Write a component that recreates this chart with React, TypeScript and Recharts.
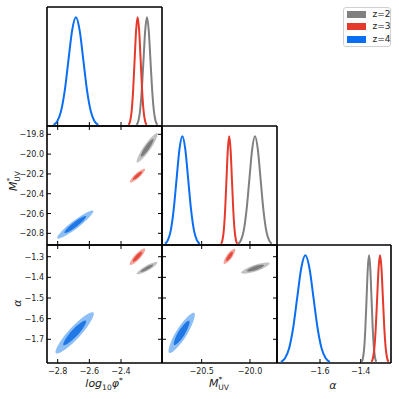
import React from "react";
import { ScatterChart, Scatter, XAxis, YAxis } from "recharts";

const FONT = '"DejaVu Sans", sans-serif';

// z groups
const GROUPS = ["z=2", "z=3", "z=4"];
const LINE_COLORS = ["#808080", "#e5392b", "#0a6ef2"];
const OUTER_FILL = ["#c2c2c2", "#f3a59d", "#8dbef5"];
const INNER_FILL = ["#7c7c7c", "#e5493c", "#1f78e6"];

// axis ticks
const PHI_TICKS = [-2.8, -2.6, -2.4];
const MUV_TICKS = [-19.8, -20.0, -20.2, -20.4, -20.6, -20.8];
const MUV_X_TICKS = [-20.5, -20.0];
const ALPHA_TICKS = [-1.3, -1.4, -1.5, -1.6, -1.7];
const ALPHA_X_TICKS = [-1.6, -1.4];

// axis ranges
const PHI_RANGE = [-2.8676, -2.141];
const MUV_Y_RANGE = [-20.918, -19.716];
const MUV_X_RANGE = [-20.911, -19.72];
const ALPHA_Y_RANGE = [-1.8148, -1.2433];
const ALPHA_X_RANGE = [-1.8113, -1.2511];
const PDF_RANGE = [0, 1.095];

// 1D marginal heights (same normalised profile for each curve)
const PROFILE = [0.011, 0.044, 0.135, 0.325, 0.607, 0.882, 1, 0.882, 0.607, 0.325, 0.135, 0.044, 0.011];

// log10 phi* marginals: z=2, z=3, z=4
const PHI_Z2 = [-2.302, -2.291, -2.28, -2.269, -2.258, -2.247, -2.236, -2.225, -2.214, -2.203, -2.192, -2.181, -2.17];
const PHI_Z3 = [-2.352, -2.3425, -2.333, -2.3235, -2.314, -2.3045, -2.295, -2.2855, -2.276, -2.2665, -2.257, -2.2475, -2.238];
const PHI_Z4 = [-2.826, -2.8025, -2.779, -2.7555, -2.732, -2.7085, -2.685, -2.6615, -2.638, -2.6145, -2.591, -2.5675, -2.544];

// M_UV marginals
const MUV_Z2 = [-20.122, -20.093, -20.064, -20.035, -20.006, -19.977, -19.948, -19.919, -19.89, -19.861, -19.832, -19.803, -19.774];
const MUV_Z3 = [-20.299, -20.285, -20.271, -20.257, -20.243, -20.229, -20.215, -20.201, -20.187, -20.173, -20.159, -20.145, -20.131];
const MUV_Z4 = [-20.88, -20.85, -20.82, -20.79, -20.76, -20.73, -20.7, -20.67, -20.64, -20.61, -20.58, -20.55, -20.52];

// alpha marginals
const ALPHA_Z2 = [-1.395, -1.389, -1.383, -1.377, -1.371, -1.365, -1.359, -1.353, -1.347, -1.341, -1.335, -1.329, -1.323];
const ALPHA_Z3 = [-1.347, -1.34, -1.333, -1.326, -1.319, -1.312, -1.305, -1.298, -1.291, -1.284, -1.277, -1.27, -1.263];
const ALPHA_Z4 = [-1.792, -1.772, -1.752, -1.732, -1.712, -1.692, -1.672, -1.652, -1.632, -1.612, -1.592, -1.572, -1.552];

// 2D contour outlines (spline control points), outer = 95%, inner = 68%
const PHI_MUV_Z2_OUT = [[-2.137, -19.712], [-2.207, -19.966], [-2.332, -20.16], [-2.262, -19.906]];
const PHI_MUV_Z2_IN = [[-2.176, -19.802], [-2.218, -19.954], [-2.293, -20.071], [-2.251, -19.918]];
const PHI_MUV_Z3_OUT = [[-2.225, -20.117], [-2.28, -20.246], [-2.367, -20.319], [-2.312, -20.19]];
const PHI_MUV_Z3_IN = [[-2.253, -20.158], [-2.287, -20.235], [-2.339, -20.279], [-2.305, -20.201]];
const PHI_MUV_Z4_OUT = [[-2.518, -20.502], [-2.666, -20.759], [-2.86, -20.92], [-2.712, -20.663]];
const PHI_MUV_Z4_IN = [[-2.587, -20.586], [-2.675, -20.74], [-2.791, -20.837], [-2.703, -20.682]];

const PHI_ALPHA_Z2_OUT = [[-2.138, -1.3136], [-2.224, -1.3717], [-2.334, -1.398], [-2.248, -1.3399]];
const PHI_ALPHA_Z2_IN = [[-2.177, -1.3305], [-2.229, -1.3653], [-2.295, -1.3811], [-2.243, -1.3463]];
const PHI_ALPHA_Z3_OUT = [[-2.225, -1.2417], [-2.275, -1.315], [-2.367, -1.3583], [-2.317, -1.285]];
const PHI_ALPHA_Z3_IN = [[-2.253, -1.265], [-2.284, -1.309], [-2.339, -1.335], [-2.308, -1.291]];
const PHI_ALPHA_Z4_OUT = [[-2.515, -1.521], [-2.651, -1.699], [-2.87, -1.817], [-2.734, -1.639]];
const PHI_ALPHA_Z4_IN = [[-2.586, -1.58], [-2.668, -1.687], [-2.799, -1.758], [-2.718, -1.651]];

const MUV_ALPHA_Z2_OUT = [[-19.722, -1.3199], [-19.927, -1.3777], [-20.166, -1.3899], [-19.96, -1.3321]];
const MUV_ALPHA_Z2_IN = [[-19.811, -1.3339], [-19.934, -1.3686], [-20.077, -1.3759], [-19.954, -1.3412]];
const MUV_ALPHA_Z3_OUT = [[-20.127, -1.2446], [-20.178, -1.3106], [-20.298, -1.3524], [-20.247, -1.2864]];
const MUV_ALPHA_Z3_IN = [[-20.161, -1.2662], [-20.192, -1.3058], [-20.264, -1.3308], [-20.233, -1.2912]];
const MUV_ALPHA_Z4_OUT = [[-20.513, -1.5233], [-20.635, -1.6902], [-20.901, -1.8145], [-20.779, -1.6476]];
const MUV_ALPHA_Z4_IN = [[-20.591, -1.5815], [-20.663, -1.6817], [-20.823, -1.7563], [-20.75, -1.6561]];

// panel grid (px)
const COLS = [47, 162, 277, 391];
const ROWS = [7, 126, 245, 363];
const ML = 40, MR = 6, MT = 6, MB = 18;
const AX = 1; // axis box thickness (must be > 0 for the axis to draw)

const AXIS = { stroke: "#000", strokeWidth: 1.6 };
const TICK_LEN = 4;

const fmt = (v: number) => (v < 0 ? "\u2212" : "") + Math.abs(v).toFixed(1);
const noDot = () => <g />;

const curve = (xs: number[]) => xs.map((x, i) => ({ x, y: PROFILE[i] }));
const poly = (pts: number[][]) => pts.map(([x, y]) => ({ x, y }));

function makeTick(side: string, withLabel: boolean) {
  return (p: any) => {
    const { x, y, payload } = p;
    const v = payload.value;
    const txt = { fontSize: 8, fontFamily: FONT, fill: "#222" };
    if (side === "bottom")
      return (
        <g>
          <line x1={x} x2={x} y1={y} y2={y - TICK_LEN} stroke="#000" strokeWidth={1} />
          {withLabel && <text x={x} y={y + 10.5} textAnchor="middle" {...txt}>{fmt(v)}</text>}
        </g>
      );
    if (side === "top")
      return <line x1={x} x2={x} y1={y} y2={y + TICK_LEN} stroke="#000" strokeWidth={1} />;
    if (side === "left")
      return (
        <g>
          <line x1={x} x2={x + TICK_LEN} y1={y} y2={y} stroke="#000" strokeWidth={1} />
          {withLabel && <text x={x - 3} y={y + 3} textAnchor="end" {...txt}>{fmt(v)}</text>}
        </g>
      );
    return <line x1={x} x2={x - TICK_LEN} y1={y} y2={y} stroke="#000" strokeWidth={1} />;
  };
}

function Panel({ col, row, xRange, yRange, xTicks, yTicks, xLabels, yLabels, children }: any) {
  const w = COLS[col + 1] - COLS[col];
  const h = ROWS[row + 1] - ROWS[row];
  return (
    <div style={{ position: "absolute", left: COLS[col] - ML, top: ROWS[row] - MT }}>
      <ScatterChart width={w + ML + MR} height={h + MT + MB}
        margin={{ top: MT - AX, right: MR - AX, bottom: MB - AX, left: ML - AX }}>
        <XAxis type="number" dataKey="x" domain={xRange} allowDataOverflow ticks={xTicks} interval={0}
          height={AX} tickSize={0} tickMargin={0} tickLine={false} axisLine={AXIS}
          tick={xTicks ? makeTick("bottom", xLabels) : false} />
        <XAxis xAxisId="t" orientation="top" type="number" dataKey="x" domain={xRange} allowDataOverflow ticks={xTicks} interval={0}
          height={AX} tickSize={0} tickMargin={0} tickLine={false} axisLine={AXIS}
          tick={xTicks && yTicks ? makeTick("top", false) : false} />
        <YAxis type="number" dataKey="y" domain={yRange} allowDataOverflow ticks={yTicks} interval={0}
          width={AX} tickSize={0} tickMargin={0} tickLine={false} axisLine={AXIS}
          tick={yTicks ? makeTick("left", yLabels) : false} />
        <YAxis yAxisId="r" orientation="right" type="number" dataKey="y" domain={yRange} allowDataOverflow ticks={yTicks} interval={0}
          width={AX} tickSize={0} tickMargin={0} tickLine={false} axisLine={AXIS}
          tick={yTicks ? makeTick("right", false) : false} />
        {children}
      </ScatterChart>
    </div>
  );
}

function lines(sets: number[][]) {
  return sets.map((xs, i) => (
    <Scatter key={GROUPS[i]} name={GROUPS[i]} data={curve(xs)} shape={noDot}
      line={{ stroke: LINE_COLORS[i], strokeWidth: 2, fill: "none" }} lineJointType="monotoneX"
      isAnimationActive={false} />
  ));
}

function contours(sets: number[][][][]) {
  // sets[i] = [outer, inner] for group i
  return sets.flatMap(([outer, inner], i) => [
    <Scatter key={GROUPS[i] + "o"} data={poly(outer)} shape={noDot}
      line={{ fill: OUTER_FILL[i], stroke: "none" }} lineJointType="basisClosed" isAnimationActive={false} />,
    <Scatter key={GROUPS[i] + "i"} data={poly(inner)} shape={noDot}
      line={{ fill: INNER_FILL[i], stroke: "none" }} lineJointType="basisClosed" isAnimationActive={false} />,
  ]);
}

const MUV = (x: number, y: number, anchor: string, rotate?: boolean) => (
  <text x={x} y={y} textAnchor={anchor as any} fontSize={11} fontFamily={FONT} fill="#222"
    transform={rotate ? `rotate(-90, ${x}, ${y})` : undefined}>
    <tspan fontStyle="italic">M</tspan>
    <tspan fontSize={7.5} dy={-4.5}>*</tspan>
    <tspan fontSize={7.5} dx={-4} dy={7.5}>UV</tspan>
  </text>
);

export default function App() {
  return (
    <div style={{ position: "absolute", left: 0, top: 0, width: 399, height: 399, background: "#fff" }}>
      {/* diagonal */}
      <Panel col={0} row={0} xRange={PHI_RANGE} yRange={PDF_RANGE} xTicks={PHI_TICKS}>
        {lines([PHI_Z2, PHI_Z3, PHI_Z4])}
      </Panel>
      <Panel col={1} row={1} xRange={MUV_X_RANGE} yRange={PDF_RANGE} xTicks={MUV_X_TICKS}>
        {lines([MUV_Z2, MUV_Z3, MUV_Z4])}
      </Panel>
      <Panel col={2} row={2} xRange={ALPHA_X_RANGE} yRange={PDF_RANGE} xTicks={ALPHA_X_TICKS} xLabels>
        {lines([ALPHA_Z2, ALPHA_Z3, ALPHA_Z4])}
      </Panel>

      {/* off-diagonal */}
      <Panel col={0} row={1} xRange={PHI_RANGE} yRange={MUV_Y_RANGE} xTicks={PHI_TICKS} yTicks={MUV_TICKS} yLabels>
        {contours([[PHI_MUV_Z2_OUT, PHI_MUV_Z2_IN], [PHI_MUV_Z3_OUT, PHI_MUV_Z3_IN], [PHI_MUV_Z4_OUT, PHI_MUV_Z4_IN]])}
      </Panel>
      <Panel col={0} row={2} xRange={PHI_RANGE} yRange={ALPHA_Y_RANGE} xTicks={PHI_TICKS} yTicks={ALPHA_TICKS} xLabels yLabels>
        {contours([[PHI_ALPHA_Z2_OUT, PHI_ALPHA_Z2_IN], [PHI_ALPHA_Z3_OUT, PHI_ALPHA_Z3_IN], [PHI_ALPHA_Z4_OUT, PHI_ALPHA_Z4_IN]])}
      </Panel>
      <Panel col={1} row={2} xRange={MUV_X_RANGE} yRange={ALPHA_Y_RANGE} xTicks={MUV_X_TICKS} yTicks={ALPHA_TICKS} xLabels>
        {contours([[MUV_ALPHA_Z2_OUT, MUV_ALPHA_Z2_IN], [MUV_ALPHA_Z3_OUT, MUV_ALPHA_Z3_IN], [MUV_ALPHA_Z4_OUT, MUV_ALPHA_Z4_IN]])}
      </Panel>

      {/* axis titles */}
      <svg width={399} height={399} style={{ position: "absolute", left: 0, top: 0, pointerEvents: "none" }}>
        {MUV(16.5, 181, "middle", true)}
        <text x={21} y={303} textAnchor="middle" fontSize={11} fontFamily={FONT} fontStyle="italic" fill="#222"
          transform="rotate(-90, 21, 303)">α</text>
        <text x={104} y={387} textAnchor="middle" fontSize={11} fontFamily={FONT} fill="#222">
          <tspan fontStyle="italic">log</tspan>
          <tspan fontSize={7.5} dy={3}>10</tspan>
          <tspan fontStyle="italic" dy={-3}>φ</tspan>
          <tspan fontSize={7.5} dy={-4.5}>*</tspan>
        </text>
        {MUV(219, 386.5, "middle")}
        <text x={333} y={389} textAnchor="middle" fontSize={11} fontFamily={FONT} fontStyle="italic" fill="#222">α</text>
      </svg>

      {/* legend */}
      <div style={{ position: "absolute", left: 343, top: 7, width: 46, height: 38, border: "1px solid #d0d0d0",
        borderRadius: 3, background: "#fff", fontFamily: FONT, fontSize: 9, color: "#222" }}>
        {GROUPS.map((g, i) => (
          <div key={g} style={{ position: "absolute", left: 2.5, top: 2.5 + i * 12.6, height: 7, display: "flex", alignItems: "center" }}>
            <div style={{ width: 19, height: 7, background: LINE_COLORS[i] }} />
            <span style={{ marginLeft: 7, lineHeight: "7px" }}>{g}</span>
          </div>
        ))}
      </div>
    </div>
  );
}
